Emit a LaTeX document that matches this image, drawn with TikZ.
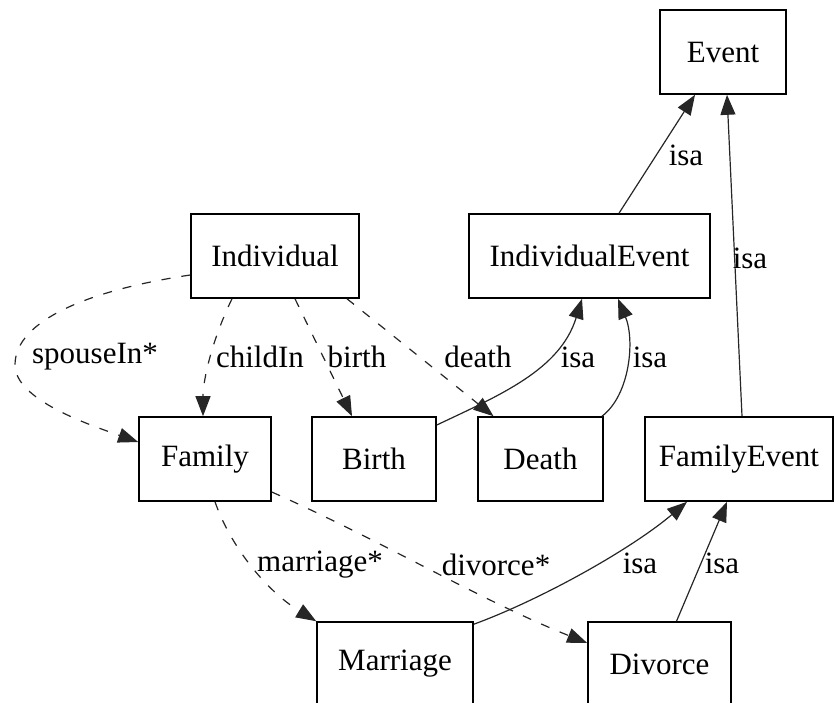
\documentclass[tikz,border=0pt]{standalone}
\usepackage{fontspec}
\setmainfont{Liberation Serif}
\usetikzlibrary{arrows.meta}
\begin{document}
\begin{tikzpicture}[x=1pt,y=-1pt,
  cls/.style={draw=black, line width=1.6pt, inner sep=0pt, minimum height=84pt,
              font=\fontsize{31}{36}\selectfont},
  rel/.style={line width=1.2pt, draw=black!85,
              -{Triangle[length=20pt,width=15pt]}},
  ref/.style={rel, dash pattern=on 9pt off 11pt},
  lbl/.style={font=\fontsize{31}{36}\selectfont, inner sep=0pt}]
\useasboundingbox (0,0) rectangle (834,702);

% classes
\node[cls, minimum width=126pt] (event)  at (723,52)    {Event};
\node[cls, minimum width=241pt] (ievent) at (589.5,256) {IndividualEvent};
\node[cls, minimum width=168pt] (indiv)  at (275,256)   {Individual};
\node[cls, minimum width=132pt] (family) at (205,459)   {Family};
\node[cls, minimum width=124pt] (birth)  at (374,459)   {Birth};
\node[cls, minimum width=125pt] (death)  at (540.5,459) {Death};
\node[cls, minimum width=188pt] (fevent) at (739,459)   {FamilyEvent};
\node[cls, minimum width=156pt] (marr)   at (395,664)   {Marriage};
\node[cls, minimum width=143pt] (div)    at (659.5,664) {Divorce};

% references (dashed)
\draw[ref] ([yshift=-19pt]indiv.west) .. controls (90,290) and (15,320) .. (15,365)
           .. controls (15,400) and (90,425) .. ([yshift=17pt]family.west);
\draw[ref] ([xshift=-43pt]indiv.south) .. controls (212,340) and (203,380) .. ([xshift=-2pt]family.north);
\draw[ref] ([xshift=20pt]indiv.south) -- ([xshift=-22pt]birth.north);
\draw[ref] ([xshift=72pt]indiv.south) -- ([xshift=-47pt]death.north);
\draw[ref] ([xshift=10pt]family.south) .. controls (230,545) and (265,590) .. (marr.north west);
\draw[ref] ([yshift=-33pt]family.east) .. controls (380,540) and (480,600) .. ([yshift=21pt]div.west);

% generalisations
\draw[rel] ([yshift=34pt]birth.east) .. controls (500,395) and (560,370) .. ([xshift=-7.5pt]ievent.south);
\draw[rel] ([xshift=61.5pt]death.north) .. controls (630,395) and (635,340) .. ([xshift=28.5pt]ievent.south);
\draw[rel] ([xshift=29.5pt]ievent.north) -- ([xshift=-28pt]event.south);
\draw[rel] ([xshift=3pt]fevent.north) -- ([xshift=4pt]event.south);
\draw[rel] ([yshift=-3pt]marr.north east) .. controls (540,600) and (630,550) .. ([xshift=-52pt]fevent.south);
\draw[rel] ([xshift=17pt]div.north) -- ([xshift=-12pt]fevent.south);

% labels
\node[lbl] (lspouse) at (95,357)  {spouseIn*};
\node[lbl] (lchild)  at (260,357) {childIn};
\node[lbl] (lbirth)  at (357,357) {birth};
\node[lbl] (ldeath)  at (478,357) {death};
\node[lbl] (lisa1)   at (578,357) {isa};
\node[lbl] (lisa2)   at (650,357) {isa};
\node[lbl] (lisa3)   at (686,155) {isa};
\node[lbl] (lisa4)   at (750,258) {isa};
\node[lbl] (lmarr)   at (320,565) {marriage*};
\node[lbl] (ldiv)    at (496,565) {divorce*};
\node[lbl] (lisa5)   at (640,563) {isa};
\node[lbl] (lisa6)   at (722,563) {isa};
\end{tikzpicture}
\end{document}
